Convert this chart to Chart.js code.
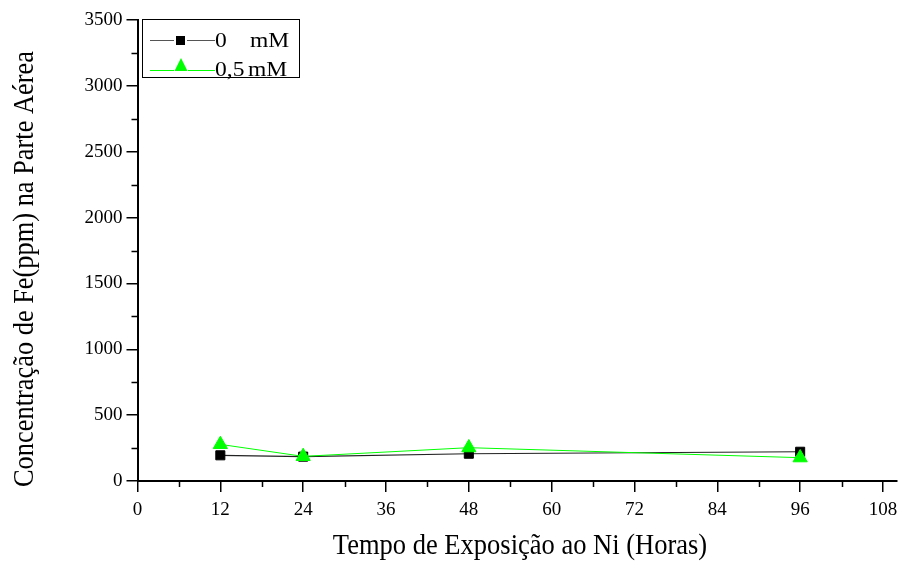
<!DOCTYPE html>
<html><head><meta charset="utf-8">
<script src="https://cdn.jsdelivr.net/npm/chart.js@4"></script>
<style>html,body{margin:0;padding:0;background:#fff;}</style>
</head><body>
<canvas id="c" width="906" height="566"></canvas>
<script>
const hours = [12, 24, 48, 96];
const fe0 = [195, 185, 207, 222];
const fe05 = [278, 187, 253, 177];
const seriesLabels = ['0', '0,5'];
const unitLabel = 'mM';
const xTicks = [0, 12, 24, 36, 48, 60, 72, 84, 96, 108];
const xMinor = [6, 18, 30, 42, 54, 66, 78, 90, 102];
const yTicks = [0, 500, 1000, 1500, 2000, 2500, 3000, 3500];
const yMinor = [250, 750, 1250, 1750, 2250, 2750, 3250];
const xTitle = 'Tempo de Exposição ao Ni (Horas)';
const yTitle = 'Concentração de Fe(ppm) na Parte Aérea';

const SERIF = '"Liberation Serif", "Times New Roman", serif';
const GREEN = '#00ff00';

const decor = {
  id: 'decor',
  afterDraw(chart) {
    const ctx = chart.ctx;
    const xs = chart.scales.x, ys = chart.scales.y;
    const ca = chart.chartArea;
    ctx.save();
    // minor ticks
    ctx.strokeStyle = '#000';
    ctx.lineWidth = 1.5;
    ctx.beginPath();
    xMinor.forEach(v => {
      const px = Math.round(xs.getPixelForValue(v)) + 0.5;
      ctx.moveTo(px, ca.bottom); ctx.lineTo(px, ca.bottom + 6);
    });
    yMinor.forEach(v => {
      const py = Math.round(ys.getPixelForValue(v)) + 0.5;
      ctx.moveTo(ca.left - 6, py); ctx.lineTo(ca.left, py);
    });
    ctx.stroke();

    // axis titles
    ctx.fillStyle = '#000';
    ctx.font = '29px ' + SERIF;
    ctx.textAlign = 'center';
    ctx.textBaseline = 'alphabetic';
    ctx.save();
    ctx.translate(520, 554);
    ctx.scale(0.914, 1);
    ctx.fillText(xTitle, 0, 0);
    ctx.restore();
    ctx.save();
    ctx.translate(33, 269);
    ctx.rotate(-Math.PI / 2);
    ctx.scale(0.91, 1);
    ctx.fillText(yTitle, 0, 0);
    ctx.restore();

    // legend
    ctx.lineWidth = 1;
    ctx.strokeStyle = '#000';
    ctx.strokeRect(142.5, 19.5, 157, 58);
    const ds = chart.data.datasets;
    const rows = [40, 70];
    // row 1
    ctx.strokeStyle = '#555';
    ctx.lineWidth = 1.2;
    ctx.beginPath();
    ctx.moveTo(150, rows[0] + 0.5); ctx.lineTo(174, rows[0] + 0.5);
    ctx.moveTo(187, rows[0] + 0.5); ctx.lineTo(215, rows[0] + 0.5);
    ctx.stroke();
    ctx.fillStyle = ds[0].pointBackgroundColor;
    ctx.fillRect(176, rows[0] - 4, 9, 9);
    // row 2
    ctx.strokeStyle = GREEN;
    ctx.lineWidth = 1;
    ctx.beginPath();
    ctx.moveTo(150, rows[1] + 0.5); ctx.lineTo(174, rows[1] + 0.5);
    ctx.moveTo(188, rows[1] + 0.5); ctx.lineTo(215, rows[1] + 0.5);
    ctx.stroke();
    ctx.fillStyle = ds[1].pointBackgroundColor;
    ctx.beginPath();
    ctx.moveTo(181, 58); ctx.lineTo(187.5, 71); ctx.lineTo(174.5, 71); ctx.closePath();
    ctx.fill();
    // legend text
    ctx.fillStyle = '#000';
    ctx.font = '21px ' + SERIF;
    ctx.textAlign = 'left';
    const txt = (s, x, y) => { ctx.save(); ctx.translate(x, y); ctx.scale(1.12, 1); ctx.fillText(s, 0, 0); ctx.restore(); };
    txt(seriesLabels[0], 215, 47);
    txt(unitLabel, 250, 47);
    txt(seriesLabels[1], 215, 76);
    txt(unitLabel, 248, 76);
    ctx.restore();
  }
};

const tickFont = { family: SERIF, size: 19 };

new Chart(document.getElementById('c'), {
  type: 'scatter',
  data: {
    datasets: [
      {
        label: seriesLabels[0] + ' ' + unitLabel,
        data: hours.map((h, i) => ({ x: h, y: fe0[i] })),
        showLine: true,
        borderColor: '#222',
        borderWidth: 1.2,
        pointStyle: 'rect',
        pointRadius: 6.4,
        pointBackgroundColor: '#000',
        pointBorderColor: '#000',
        pointBorderWidth: 1,
        order: 1
      },
      {
        label: seriesLabels[1] + ' ' + unitLabel,
        data: hours.map((h, i) => ({ x: h, y: fe05[i] })),
        showLine: true,
        borderColor: GREEN,
        borderWidth: 1,
        pointStyle: 'triangle',
        pointRadius: 8.2,
        pointBackgroundColor: GREEN,
        pointBorderColor: GREEN,
        pointBorderWidth: 1,
        order: 0
      }
    ]
  },
  options: {
    responsive: false,
    animation: false,
    layout: { padding: { top: 20, right: 8, left: 0, bottom: 0 } },
    plugins: { legend: { display: false }, tooltip: { enabled: false } },
    scales: {
      x: {
        type: 'linear', min: 0, max: 110,
        afterBuildTicks: s => { s.ticks = xTicks.map(v => ({ value: v })); },
        afterFit: s => { s.height = 85; },
        grid: { drawOnChartArea: false, drawTicks: true, tickLength: 11, color: '#000', lineWidth: 1.5 },
        border: { display: true, color: '#000', width: 2 },
        ticks: { font: tickFont, color: '#000', padding: 7, maxRotation: 0, autoSkip: false, callback: v => String(v) }
      },
      y: {
        type: 'linear', min: 0, max: 3500,
        afterBuildTicks: s => { s.ticks = yTicks.map(v => ({ value: v })); },
        afterFit: s => { s.width = 137.5; },
        grid: { drawOnChartArea: false, drawTicks: true, tickLength: 11, color: '#000', lineWidth: 1.5 },
        border: { display: true, color: '#000', width: 2 },
        ticks: { font: tickFont, color: '#000', padding: 4, autoSkip: false, callback: v => String(v) }
      }
    }
  },
  plugins: [decor]
});
</script>
</body></html>
